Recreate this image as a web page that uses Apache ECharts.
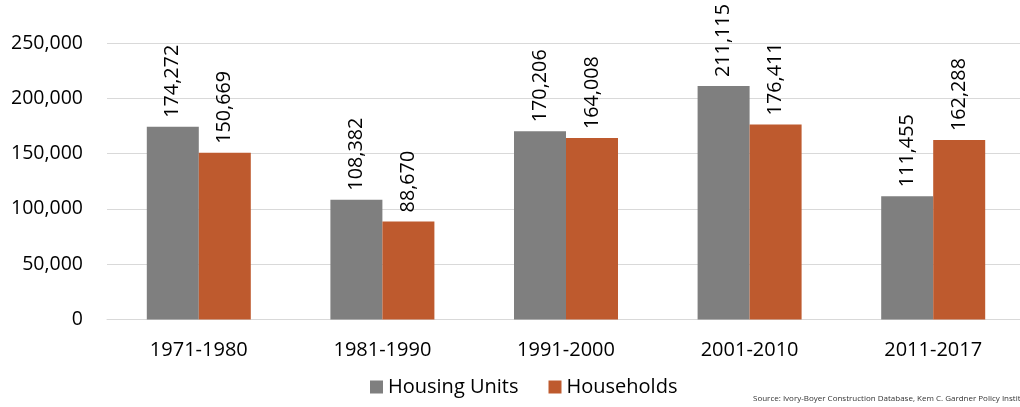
<!DOCTYPE html>
<html>
<head>
<meta charset="utf-8">
<script src="https://cdn.jsdelivr.net/npm/echarts@6/dist/echarts.min.js"></script>
<style>
  html, body { margin: 0; padding: 0; background: #fff; }
  #chart { width: 1020px; height: 407px; }
</style>
</head>
<body>
<div id="chart"></div>
<script>
const decades = ['1971-1980', '1981-1990', '1991-2000', '2001-2010', '2011-2017']
const housingUnits = [174272, 108382, 170206, 211115, 111455]
const households = [150669, 88670, 164008, 176411, 162288]
const sourceNote = 'Source: Ivory-Boyer Construction Database, Kem C. Gardner Policy Institute'

const chart = echarts.init(document.getElementById('chart'))
const font = '"Open Sans", "Noto Sans", sans-serif'
const fmt = v => v.toLocaleString('en-US')

const valueLabel = {
  show: true,
  position: 'top',
  rotate: 90,
  align: 'left',
  verticalAlign: 'middle',
  distance: 9,
  color: '#000',
  fontFamily: font,
  fontSize: 19.8,
  formatter: p => fmt(p.value)
}

chart.setOption({
  animation: false,
  textStyle: { fontFamily: font },
  grid: { left: 107, top: 43, width: 918, height: 276.5, outerBoundsMode: 'none', containLabel: false },
  legend: {
    bottom: 5,
    left: 365,
    itemWidth: 13,
    itemHeight: 13,
    itemGap: 30,
    icon: 'rect',
    textStyle: { fontSize: 20, color: '#000', fontFamily: font }
  },
  graphic: [{
    type: 'text',
    left: 753,
    top: 395,
    style: { text: sourceNote, fontSize: 8, fill: '#333', fontFamily: font }
  }],
  xAxis: {
    type: 'category',
    data: decades,
    axisTick: { show: false },
    axisLine: { lineStyle: { color: '#d9d9d9' } },
    axisLabel: { color: '#000', fontSize: 20, margin: 21, fontFamily: font }
  },
  yAxis: {
    type: 'value',
    min: 0,
    max: 250000,
    interval: 50000,
    axisLine: { show: false },
    axisTick: { show: false },
    axisLabel: { color: '#000', fontSize: 19.5, margin: 24, fontFamily: font, formatter: v => fmt(v) },
    splitLine: { lineStyle: { color: '#d9d9d9' } }
  },
  series: [
    {
      name: 'Housing Units',
      type: 'bar',
      data: housingUnits,
      barWidth: 52,
      barGap: 0,
      itemStyle: { color: '#7f7f7f' },
      label: valueLabel
    },
    {
      name: 'Households',
      type: 'bar',
      data: households,
      barWidth: 52,
      itemStyle: { color: '#be5a2e' },
      label: valueLabel
    }
  ]
})
</script>
</body>
</html>
